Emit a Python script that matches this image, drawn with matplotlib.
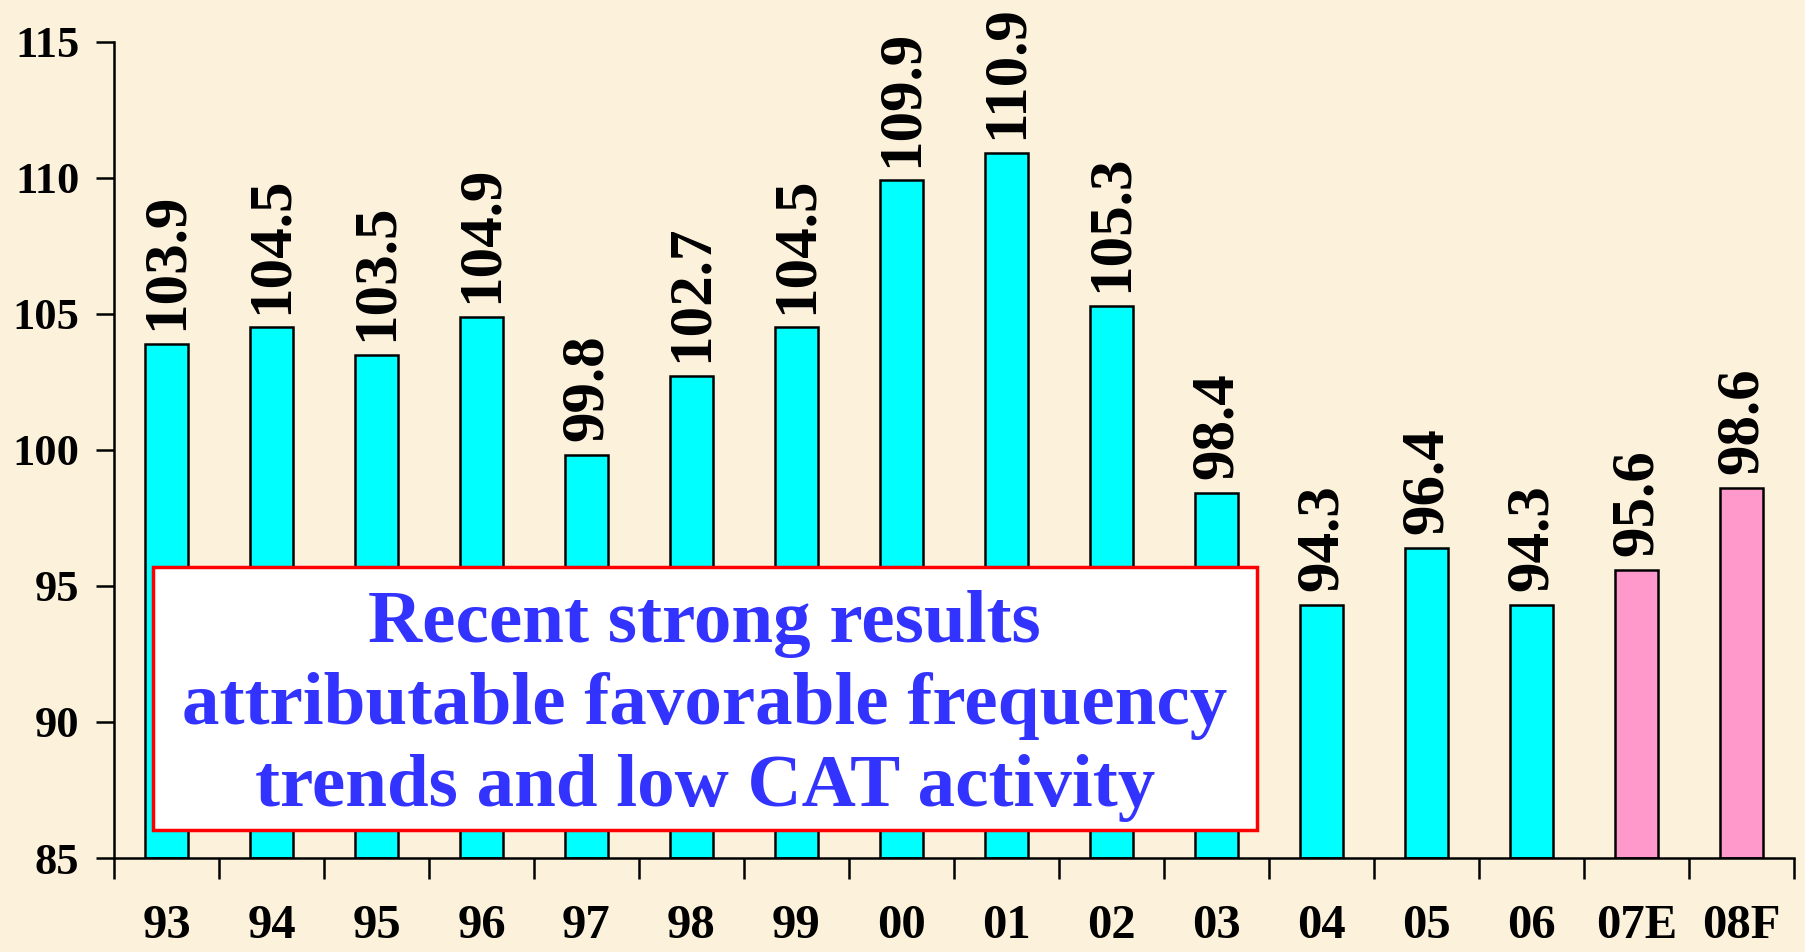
import matplotlib.pyplot as plt
from matplotlib.patches import Rectangle

# data
years = ["93", "94", "95", "96", "97", "98", "99", "00", "01", "02",
         "03", "04", "05", "06", "07E", "08F"]
ratios = [103.9, 104.5, 103.5, 104.9, 99.8, 102.7, 104.5, 109.9, 110.9, 105.3,
          98.4, 94.3, 96.4, 94.3, 95.6, 98.6]
bar_colors = ["#00FFFF"] * 14 + ["#FF99CC"] * 2
yticks = [85, 90, 95, 100, 105, 110, 115]
note = "Recent strong results\nattributable favorable frequency\ntrends and low CAT activity"

plt.rcParams["font.family"] = ["Liberation Serif", "DejaVu Serif"]
plt.rcParams["font.weight"] = "bold"

bg = "#FCF2DC"
fig = plt.figure(figsize=(18.06, 9.52), dpi=100, facecolor=bg)
ax = fig.add_axes([114 / 1806, 1 - 858 / 952, 1680 / 1806, (858 - 41.7) / 952])
ax.set_facecolor(bg)

x = list(range(len(years)))
ax.bar(x, [r - 85 for r in ratios], bottom=85, width=0.41, color=bar_colors,
       edgecolor="black", linewidth=1.8, zorder=2)

for xi, r in zip(x, ratios):
    ax.annotate(f"{r:.1f}", (xi, r), xytext=(0, 10), textcoords="offset points",
                rotation=90, ha="center", va="bottom", fontsize=44,
                fontweight="bold", zorder=3)

ax.set_xlim(-0.5, len(years) - 0.5)
ax.set_ylim(85, 115)
ax.set_yticks(yticks)
ax.set_yticklabels([str(t) for t in yticks], fontsize=32, fontweight="bold")

# category labels centred, tick marks between categories
ax.set_xticks(x)
ax.set_xticklabels(years, fontsize=35, fontweight="bold")
ax.set_xticks([i - 0.5 for i in range(len(years) + 1)], minor=True)
ax.tick_params(axis="x", which="major", length=0, pad=33)
ax.tick_params(axis="x", which="minor", length=15, width=1.8, direction="out")
ax.tick_params(axis="y", length=13, width=1.8, direction="out", pad=12)

for side in ["top", "right"]:
    ax.spines[side].set_visible(False)
for side in ["left", "bottom"]:
    ax.spines[side].set_linewidth(1.8)

# annotation box
bx0, bx1 = 152.7 / 1806, 1257 / 1806
by0, by1 = 1 - 830 / 952, 1 - 567 / 952
fig.patches.append(Rectangle((bx0, by0), bx1 - bx0, by1 - by0, transform=fig.transFigure,
                             facecolor="white", edgecolor="red", linewidth=2.5, zorder=5))
fig.text((bx0 + bx1) / 2, 1 - 706 / 952, note, ha="center", va="center",
         fontsize=54, fontweight="bold", color="#3333FF", linespacing=1.27, zorder=6)

fig.savefig("out.png", dpi=100, facecolor=bg)
